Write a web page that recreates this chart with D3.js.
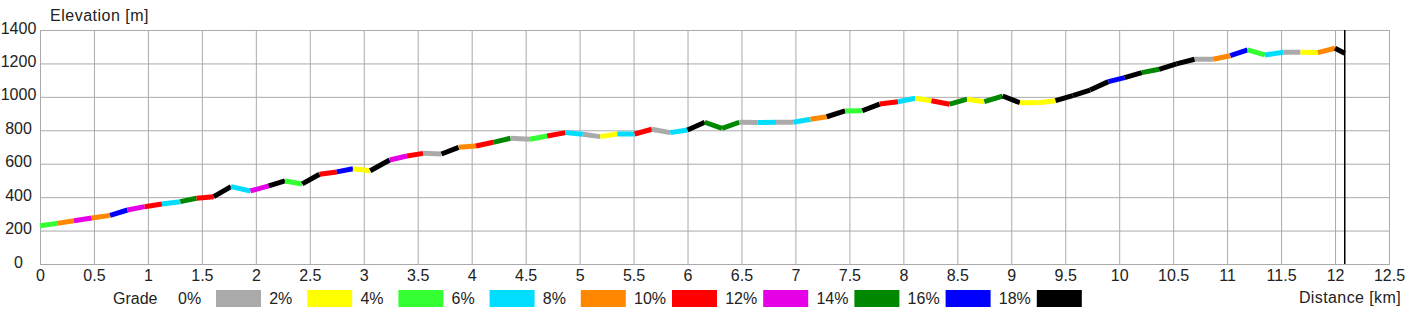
<!DOCTYPE html>
<html>
<head>
<meta charset="utf-8">
<script src="https://cdn.jsdelivr.net/npm/d3@7"></script>
<style>
  body { margin: 0; background: #fff; }
  text { font-family: 'Liberation Sans', Arial, sans-serif; font-size: 16px; fill: #222; }
</style>
</head>
<body>
<div id="chart"></div>
<script>
// Profile samples (distance along route, elevation)
const distanceKm = [
  0.00, 0.16, 0.315, 0.48, 0.65, 0.81, 0.97, 1.13, 1.30, 1.45,
  1.61, 1.77, 1.95, 2.12, 2.27, 2.43, 2.59, 2.75, 2.90, 3.06,
  3.24, 3.40, 3.55, 3.72, 3.88, 4.04, 4.20, 4.36, 4.54, 4.70,
  4.87, 5.03, 5.19, 5.35, 5.51, 5.67, 5.84, 6.00, 6.16, 6.32,
  6.48, 6.65, 6.82, 6.98, 7.14, 7.29, 7.46, 7.62, 7.78, 7.95,
  8.11, 8.26, 8.43, 8.59, 8.75, 8.92, 9.08, 9.25, 9.41, 9.57,
  9.73, 9.90, 10.05, 10.21, 10.37, 10.53, 10.70, 10.87, 11.03, 11.19,
  11.35, 11.52, 11.68, 11.84, 12.00, 12.09
]
const elevationM = [
  229, 243, 259, 275, 291, 323, 343, 359, 373, 393,
  403, 463, 437, 467, 497, 479, 537, 551, 570, 558,
  622, 646, 662, 658, 698, 706, 728, 752, 746, 766,
  786, 776, 762, 778, 778, 806, 786, 802, 848, 812,
  848, 846, 848, 848, 866, 881, 916, 917, 957, 971,
  992, 977, 956, 986, 971, 1005, 965, 965, 977, 1007,
  1041, 1091, 1115, 1145, 1165, 1197, 1225, 1225, 1246, 1281,
  1251, 1267, 1267, 1265, 1291, 1261
]
// Grade class of each segment (index into gradeLabels)
const segmentGrade = [
  2, 4, 6, 4, 8, 6, 5, 3, 7, 5,
  9, 3, 6, 9, 2, 9, 5, 8, 1, 9,
  6, 5, 0, 9, 4, 5, 7, 0, 2, 5,
  3, 0, 1, 3, 5, 0, 3, 9, 7, 7,
  0, 3, 0, 3, 4, 9, 2, 9, 5, 3,
  1, 5, 7, 1, 7, 9, 1, 1, 9, 9,
  9, 8, 9, 7, 9, 9, 0, 4, 8, 2,
  3, 0, 1, 4, 9
]
const gradeLabels = ['0%', '2%', '4%', '6%', '8%', '10%', '12%', '14%', '16%', '18%']
const gradeColors = ['#aaaaaa', '#ffff00', '#33ff33', '#00ddff', '#ff8800',
  '#ff0000', '#e600e6', '#008800', '#0000ff', '#000000']

const xTicks = [0, 0.5, 1, 1.5, 2, 2.5, 3, 3.5, 4, 4.5, 5, 5.5, 6, 6.5,
  7, 7.5, 8, 8.5, 9, 9.5, 10, 10.5, 11, 11.5, 12, 12.5]
const yTicks = [0, 200, 400, 600, 800, 1000, 1200, 1400]

;(() => {
  const width = 1427
  const height = 314
  const margin = { top: 30, right: 38, bottom: 50, left: 40 }
  const innerWidth = width - margin.left - margin.right
  const innerHeight = height - margin.top - margin.bottom

  const svg = d3.select('#chart')
    .append('svg')
    .attr('width', width)
    .attr('height', height)
    .style('display', 'block')

  const g = svg.append('g')
    .attr('transform', `translate(${margin.left}, ${margin.top})`)

  const x = d3.scaleLinear().domain([0, 12.5]).range([0, innerWidth])
  const y = d3.scaleLinear().domain([0, 1400]).range([innerHeight, 0])

  // Gridlines
  g.append('g')
    .attr('transform', `translate(0, ${innerHeight})`)
    .call(d3.axisBottom(x).tickValues(xTicks).tickSize(-innerHeight).tickFormat(''))
    .call(a => a.select('.domain').remove())
    .call(a => a.selectAll('line').attr('stroke', '#aaaaaa'))

  g.append('g')
    .call(d3.axisLeft(y).tickValues(yTicks).tickSize(-innerWidth).tickFormat(''))
    .call(a => a.select('.domain').remove())
    .call(a => a.selectAll('line').attr('stroke', '#aaaaaa'))

  // Frame
  g.append('rect')
    .attr('x', 0.5).attr('y', 0.5)
    .attr('width', innerWidth).attr('height', innerHeight)
    .attr('fill', 'none')
    .attr('stroke', '#aaaaaa')

  // Bottom axis labels
  g.append('g')
    .attr('transform', `translate(0, ${innerHeight})`)
    .call(d3.axisBottom(x).tickValues(xTicks).tickSize(0).tickFormat(d3.format('')))
    .call(a => a.select('.domain').remove())
    .call(a => a.selectAll('text').attr('dy', null).attr('y', 17).attr('fill', '#222'))

  // Left axis labels
  g.append('g')
    .call(d3.axisLeft(y).tickValues(yTicks).tickSize(0).tickFormat(d3.format('d')))
    .call(a => a.select('.domain').remove())
    .call(a => a.selectAll('text')
      .attr('text-anchor', 'middle')
      .attr('x', -21.5)
      .attr('dy', null)
      .attr('y', 3)
      .attr('fill', '#222'))

  // Profile, one coloured segment per sample pair
  const segs = segmentGrade.map((gr, i) => ({
    x1: distanceKm[i], y1: elevationM[i],
    x2: distanceKm[i + 1], y2: elevationM[i + 1],
    grade: gr
  }))

  g.append('g')
    .selectAll('line')
    .data(segs)
    .join('line')
    .attr('x1', d => x(d.x1))
    .attr('y1', d => y(d.y1))
    .attr('x2', d => x(d.x2))
    .attr('y2', d => y(d.y2))
    .attr('stroke', d => gradeColors[d.grade])
    .attr('stroke-width', 5)
    .attr('stroke-linecap', 'butt')

  // End-of-route marker
  const endKm = distanceKm[distanceKm.length - 1]
  g.append('line')
    .attr('x1', x(endKm)).attr('x2', x(endKm))
    .attr('y1', 0).attr('y2', innerHeight)
    .attr('stroke', '#000')
    .attr('stroke-width', 1.5)

  // Axis titles
  svg.append('text')
    .attr('x', 50).attr('y', 20.5)
    .style('letter-spacing', '0.5px')
    .text('Elevation [m]')

  svg.append('text')
    .attr('x', 1401).attr('y', 303)
    .attr('text-anchor', 'end')
    .style('letter-spacing', '0.4px')
    .text('Distance [km]')

  // Legend
  svg.append('text').attr('x', 113).attr('y', 304).text('Grade')

  const legend = svg.append('g')
    .selectAll('g')
    .data(gradeLabels)
    .join('g')
    .attr('transform', (d, i) => `translate(${178 + i * 91.2}, 0)`)

  legend.append('text').attr('x', 0).attr('y', 304).text(d => d)
  legend.append('rect')
    .attr('x', 38).attr('y', 290)
    .attr('width', 45).attr('height', 17)
    .attr('fill', (d, i) => gradeColors[i])
})()
</script>
</body>
</html>
